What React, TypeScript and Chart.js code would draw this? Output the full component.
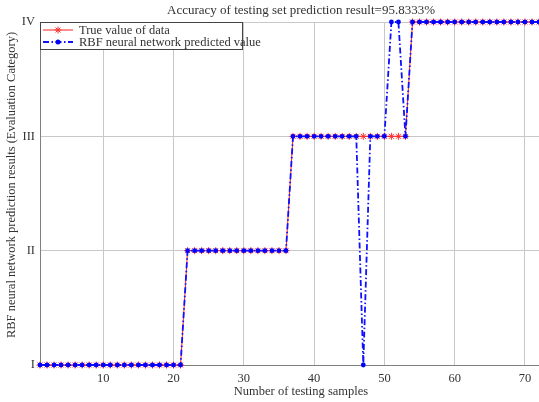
import React, { useEffect, useRef } from "react";
import { Chart, registerables } from "chart.js";

Chart.register(...registerables);

const sampleIndex: number[] = [
  1, 2, 3, 4, 5, 6, 7, 8, 9, 10, 11, 12, 13, 14, 15, 16, 17, 18, 19, 20, 21, 22, 23, 24,
  25, 26, 27, 28, 29, 30, 31, 32, 33, 34, 35, 36, 37, 38, 39, 40, 41, 42, 43, 44, 45, 46, 47, 48,
  49, 50, 51, 52, 53, 54, 55, 56, 57, 58, 59, 60, 61, 62, 63, 64, 65, 66, 67, 68, 69, 70, 71, 72,
];

const trueValues: number[] = [
  1, 1, 1, 1, 1, 1, 1, 1, 1, 1, 1, 1, 1, 1, 1, 1, 1, 1, 1, 1, 1, 2, 2, 2,
  2, 2, 2, 2, 2, 2, 2, 2, 2, 2, 2, 2, 3, 3, 3, 3, 3, 3, 3, 3, 3, 3, 3, 3,
  3, 3, 3, 3, 3, 4, 4, 4, 4, 4, 4, 4, 4, 4, 4, 4, 4, 4, 4, 4, 4, 4, 4, 4,
];

const predictedValues: number[] = [
  1, 1, 1, 1, 1, 1, 1, 1, 1, 1, 1, 1, 1, 1, 1, 1, 1, 1, 1, 1, 1, 2, 2, 2,
  2, 2, 2, 2, 2, 2, 2, 2, 2, 2, 2, 2, 3, 3, 3, 3, 3, 3, 3, 3, 3, 3, 1, 3,
  3, 3, 4, 4, 3, 4, 4, 4, 4, 4, 4, 4, 4, 4, 4, 4, 4, 4, 4, 4, 4, 4, 4, 4,
];

const xTicks: number[] = [10, 20, 30, 40, 50, 60, 70];
const yTicks: number[] = [1, 2, 3, 4];
const yTickLabels: string[] = ["I", "II", "III", "IV"];

const titleText = "Accuracy of testing set prediction result=95.8333%";
const xLabel = "Number of testing samples";
const yLabel = "RBF neural network prediction results (Evaluation Category)";
const seriesLabels: string[] = ["True value of data", "RBF neural network predicted value"];

const FONT = "'Liberation Serif', 'Times New Roman', serif";
const TEXT = "#333333";

const textPlugin = {
  id: "matlabText",
  afterDraw(chart: any) {
    const ctx = chart.ctx as CanvasRenderingContext2D;
    const area = chart.chartArea;
    ctx.save();
    ctx.fillStyle = TEXT;
    ctx.textAlign = "center";
    ctx.textBaseline = "middle";
    ctx.font = `13px ${FONT}`;
    ctx.fillText(titleText, 301, 11);
    ctx.font = `12.5px ${FONT}`;
    ctx.fillText(xLabel, 301, 392);
    ctx.save();
    ctx.translate(12, 185);
    ctx.rotate(-Math.PI / 2);
    ctx.fillText(yLabel, 0, 0);
    ctx.restore();

    // legend
    const lx = area.left;
    const ly = area.top;
    const lw = 203;
    const lh = 28;
    ctx.fillStyle = "#ffffff";
    ctx.fillRect(lx, ly, lw, lh);
    ctx.strokeStyle = "#444444";
    ctx.lineWidth = 1;
    ctx.strokeRect(lx + 0.5, ly + 0.5, lw - 1, lh - 1);
    const ds = chart.data.datasets;
    const rows = [ly + 8, ly + 20];
    ds.forEach((d: any, i: number) => {
      const y = rows[i];
      ctx.save();
      ctx.strokeStyle = d.borderColor;
      ctx.lineWidth = d.borderWidth;
      ctx.setLineDash(d.borderDash || []);
      ctx.beginPath();
      ctx.moveTo(lx + 3, y);
      ctx.lineTo(lx + 33, y);
      ctx.stroke();
      ctx.setLineDash([]);
      const cx = lx + 18;
      if (d.pointStyle === "star") {
        ctx.strokeStyle = d.pointBorderColor;
        ctx.lineWidth = 1;
        const r = 3.5;
        ctx.beginPath();
        for (let k = 0; k < 4; k++) {
          const a = (k * Math.PI) / 4;
          ctx.moveTo(cx - r * Math.cos(a), y - r * Math.sin(a));
          ctx.lineTo(cx + r * Math.cos(a), y + r * Math.sin(a));
        }
        ctx.stroke();
      } else {
        ctx.fillStyle = d.pointBackgroundColor;
        ctx.beginPath();
        ctx.arc(cx, y, 2.5, 0, Math.PI * 2);
        ctx.fill();
      }
      ctx.restore();
      ctx.fillStyle = TEXT;
      ctx.textAlign = "left";
      ctx.font = `12.5px ${FONT}`;
      ctx.fillText(d.label, lx + 39, y + 0.5);
    });
    ctx.restore();
  },
};

export default function App() {
  const ref = useRef<HTMLCanvasElement | null>(null);
  useEffect(() => {
    if (!ref.current) return;
    const chart = new Chart(ref.current, {
      type: "line",
      data: {
        labels: sampleIndex,
        datasets: [
          {
            label: seriesLabels[0],
            data: sampleIndex.map((x, i) => ({ x, y: trueValues[i] })),
            borderColor: "#ff2020",
            borderWidth: 1,
            pointStyle: "star",
            pointRadius: 3.5,
            pointBorderColor: "#ff3030",
            pointBackgroundColor: "#ff3030",
            pointBorderWidth: 1,
            tension: 0,
            order: 2,
            clip: 6,
          },
          {
            label: seriesLabels[1],
            data: sampleIndex.map((x, i) => ({ x, y: predictedValues[i] })),
            borderColor: "#1010ff",
            borderWidth: 1.8,
            borderDash: [6, 2.5, 1.5, 2.5],
            pointStyle: "circle",
            pointRadius: 2.4,
            pointBorderWidth: 0,
            pointBackgroundColor: "#0000ff",
            pointBorderColor: "#0000ff",
            tension: 0,
            order: 1,
            clip: 6,
          },
        ],
      },
      options: {
        responsive: false,
        animation: false,
        layout: { autoPadding: false, padding: { top: 22, left: 0, right: 0, bottom: 0 } },
        plugins: {
          legend: { display: false },
          title: { display: false },
          tooltip: { enabled: false },
        },
        scales: {
          x: {
            type: "linear",
            min: 1,
            max: 72,
            afterBuildTicks: (scale: any) => {
              scale.ticks = xTicks.map((v) => ({ value: v }));
            },
            afterFit: (scale: any) => {
              scale.height = 37;
              scale.paddingRight = 0;
              scale.paddingLeft = 0;
            },
            ticks: {
              font: { family: FONT, size: 12.5 },
              color: TEXT,
              padding: 6,
              maxRotation: 0,
              autoSkip: false,
            },
            grid: { color: "#c8c8c8", lineWidth: 1, drawTicks: false },
            border: { color: "#808080", width: 1 },
          },
          y: {
            type: "linear",
            min: 1,
            max: 4,
            afterBuildTicks: (scale: any) => {
              scale.ticks = yTicks.map((v) => ({ value: v }));
            },
            afterFit: (scale: any) => {
              scale.width = 40;
              scale.paddingTop = 0;
              scale.paddingBottom = 0;
            },
            ticks: {
              font: { family: FONT, size: 12.5 },
              color: TEXT,
              padding: 5,
              callback: (v: any) => yTickLabels[yTicks.indexOf(Number(v))] ?? "",
            },
            grid: { color: "#c8c8c8", lineWidth: 1, drawTicks: false },
            border: { color: "#808080", width: 1 },
          },
        },
      },
      plugins: [textPlugin],
    });
    return () => chart.destroy();
  }, []);
  return (
    <div style={{ position: "fixed", left: 0, top: 0, width: 539, height: 402, background: "#fff" }}>
      <canvas ref={ref} width={539} height={402} style={{ width: 539, height: 402, display: "block" }} />
    </div>
  );
}
